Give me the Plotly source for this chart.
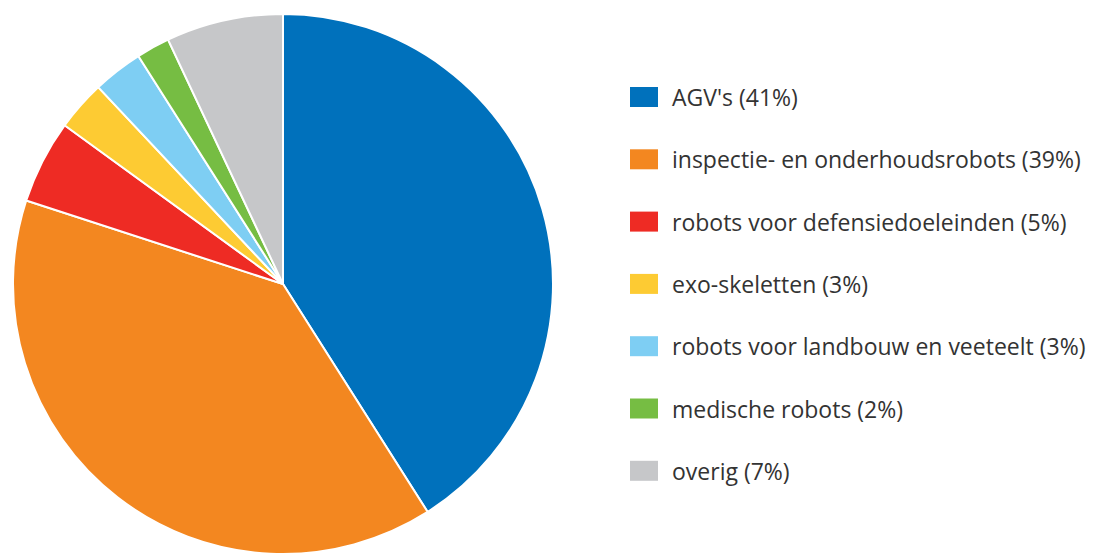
import plotly.graph_objects as go

labels = ["AGV's", "inspectie- en onderhoudsrobots", "robots voor defensiedoeleinden",
          "exo-skeletten", "robots voor landbouw en veeteelt", "medische robots", "overig"]
values = [41, 39, 5, 3, 3, 2, 7]
colors = ["#0071BC", "#F38720", "#EE2B24", "#FDCB33", "#7ECEF3", "#76BD43", "#C6C7C9"]

OFF = 8  # default page body margin
W, H = 1096 - OFF, 554 - OFF
T = 14 - OFF
PH = H - T  # plot area height


def px(x):
    return (x - OFF) / W


def py(y):
    return 1 - (y - OFF - T) / PH


fig = go.Figure(go.Pie(
    labels=labels, values=values, sort=False, direction="clockwise", rotation=0,
    marker=dict(colors=colors, line=dict(color="white", width=2)),
    textinfo="none", hoverinfo="label+percent", showlegend=False,
    domain=dict(x=[px(13), px(553)], y=[0, 1]),
))

# custom legend
x_rect0, x_rect1, x_text = 630, 658, 672
y0, dy = 97, 62.3
shapes, annots = [], []
for i, (lab, val, col) in enumerate(zip(labels, values, colors)):
    yc = y0 + i * dy
    shapes.append(dict(type="rect", xref="paper", yref="paper",
                       x0=px(x_rect0), x1=px(x_rect1),
                       y0=py(yc + 10), y1=py(yc - 10),
                       fillcolor=col, line=dict(width=0)))
    annots.append(dict(xref="paper", yref="paper", x=px(x_text), y=py(yc),
                       text=f"{lab} ({val}%)", showarrow=False, xanchor="left", yanchor="middle",
                       xshift=-2,
                       font=dict(family="Open Sans", size=23, color="#333333")))

fig.update_layout(
    width=W, height=H, margin=dict(l=0, r=0, t=T, b=0),
    paper_bgcolor="white", plot_bgcolor="white",
    shapes=shapes, annotations=annots,
)
fig.write_html("out.html")
